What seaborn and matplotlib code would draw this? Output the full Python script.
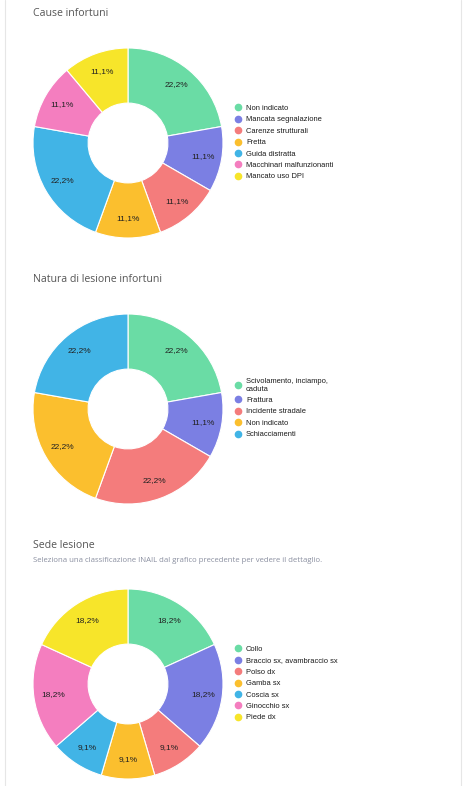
import matplotlib
matplotlib.use("Agg")
import matplotlib.pyplot as plt
from matplotlib.lines import Line2D
import seaborn as sns

sns.set_theme(style="white")
plt.rcParams['font.family'] = ['Liberation Sans', 'DejaVu Sans']

# ---- data ----
colors = ["#6ADCA5", "#7B7FE3", "#F47C7C", "#FBBF2E", "#41B4E6", "#F47EBF", "#F7E52A"]

cause_labels = ["Non indicato", "Mancata segnalazione", "Carenze strutturali", "Fretta",
                "Guida distratta", "Macchinari malfunzionanti", "Mancato uso DPI"]
cause_values = [2, 1, 1, 1, 2, 1, 1]

natura_labels = ["Scivolamento, inciampo,\ncaduta", "Frattura", "Incidente stradale",
                 "Non indicato", "Schiacciamenti"]
natura_values = [2, 1, 2, 2, 2]

sede_labels = ["Collo", "Braccio sx, avambraccio sx", "Polso dx", "Gamba sx",
               "Coscia sx", "Ginocchio sx", "Piede dx"]
sede_values = [2, 2, 1, 1, 1, 2, 2]

titles = ["Cause infortuni", "Natura di lesione infortuni", "Sede lesione"]
subtitle = "Seleziona una classificazione INAIL dal grafico precedente per vedere il dettaglio."

W, H = 465, 786
fig = plt.figure(figsize=(W / 100, H / 100), dpi=100)
fig.patch.set_facecolor("white")

def fx(px):
    return px / W

def fy(py):
    return 1 - py / H

# card borders
for x in (5, 461):
    fig.add_artist(Line2D([fx(x), fx(x)], [0, 1], color="#e6e6e6", lw=0.8))

def fmt(p):
    return ("%.1f%%" % p).replace(".", ",")

LFS = 5.4  # legend font size (pt)

def donut(values, labels, cy, legend_cy, title, title_y, sub=None):
    cx, r = 128, 95
    ax = fig.add_axes([fx(cx - r), fy(cy + r), fx(2 * r), (2 * r) / H])
    ax.set_axis_off()
    ax.pie(values, colors=colors[:len(values)], startangle=90, counterclock=False,
           autopct=fmt, pctdistance=0.80, radius=1.0,
           wedgeprops=dict(width=0.58, edgecolor="white", linewidth=0.8),
           textprops=dict(fontsize=6, color="#222222"))
    ax.set_xlim(-1.0, 1.0)
    ax.set_ylim(-1.0, 1.0)
    ax.set_aspect("equal")
    handles = [Line2D([0], [0], marker="o", linestyle="", markersize=4.5,
                      markerfacecolor=c, markeredgecolor=c) for c in colors[:len(values)]]
    fig.legend(handles, labels, loc="center left",
               bbox_to_anchor=(fx(235), fy(legend_cy)), frameon=False,
               fontsize=LFS, labelspacing=0.56, handlelength=0.8, handletextpad=0.67,
               borderpad=0, borderaxespad=0, labelcolor="#1a1a1a")
    fig.text(fx(33), fy(title_y), title, fontsize=7.6, color="#555555",
             family=["Open Sans", "DejaVu Sans"], va="center", ha="left")
    if sub:
        fig.text(fx(33), fy(title_y + 16), sub, fontsize=5.6, color="#8a8fa0",
                 family=["Open Sans", "DejaVu Sans"], va="center", ha="left")

donut(cause_values, cause_labels, 143, 142.5, titles[0], 13)
donut(natura_values, natura_labels, 409, 408, titles[1], 279)
donut(sede_values, sede_labels, 684, 683.5, titles[2], 545, subtitle)

fig.savefig("out.png", dpi=100, facecolor="white")
